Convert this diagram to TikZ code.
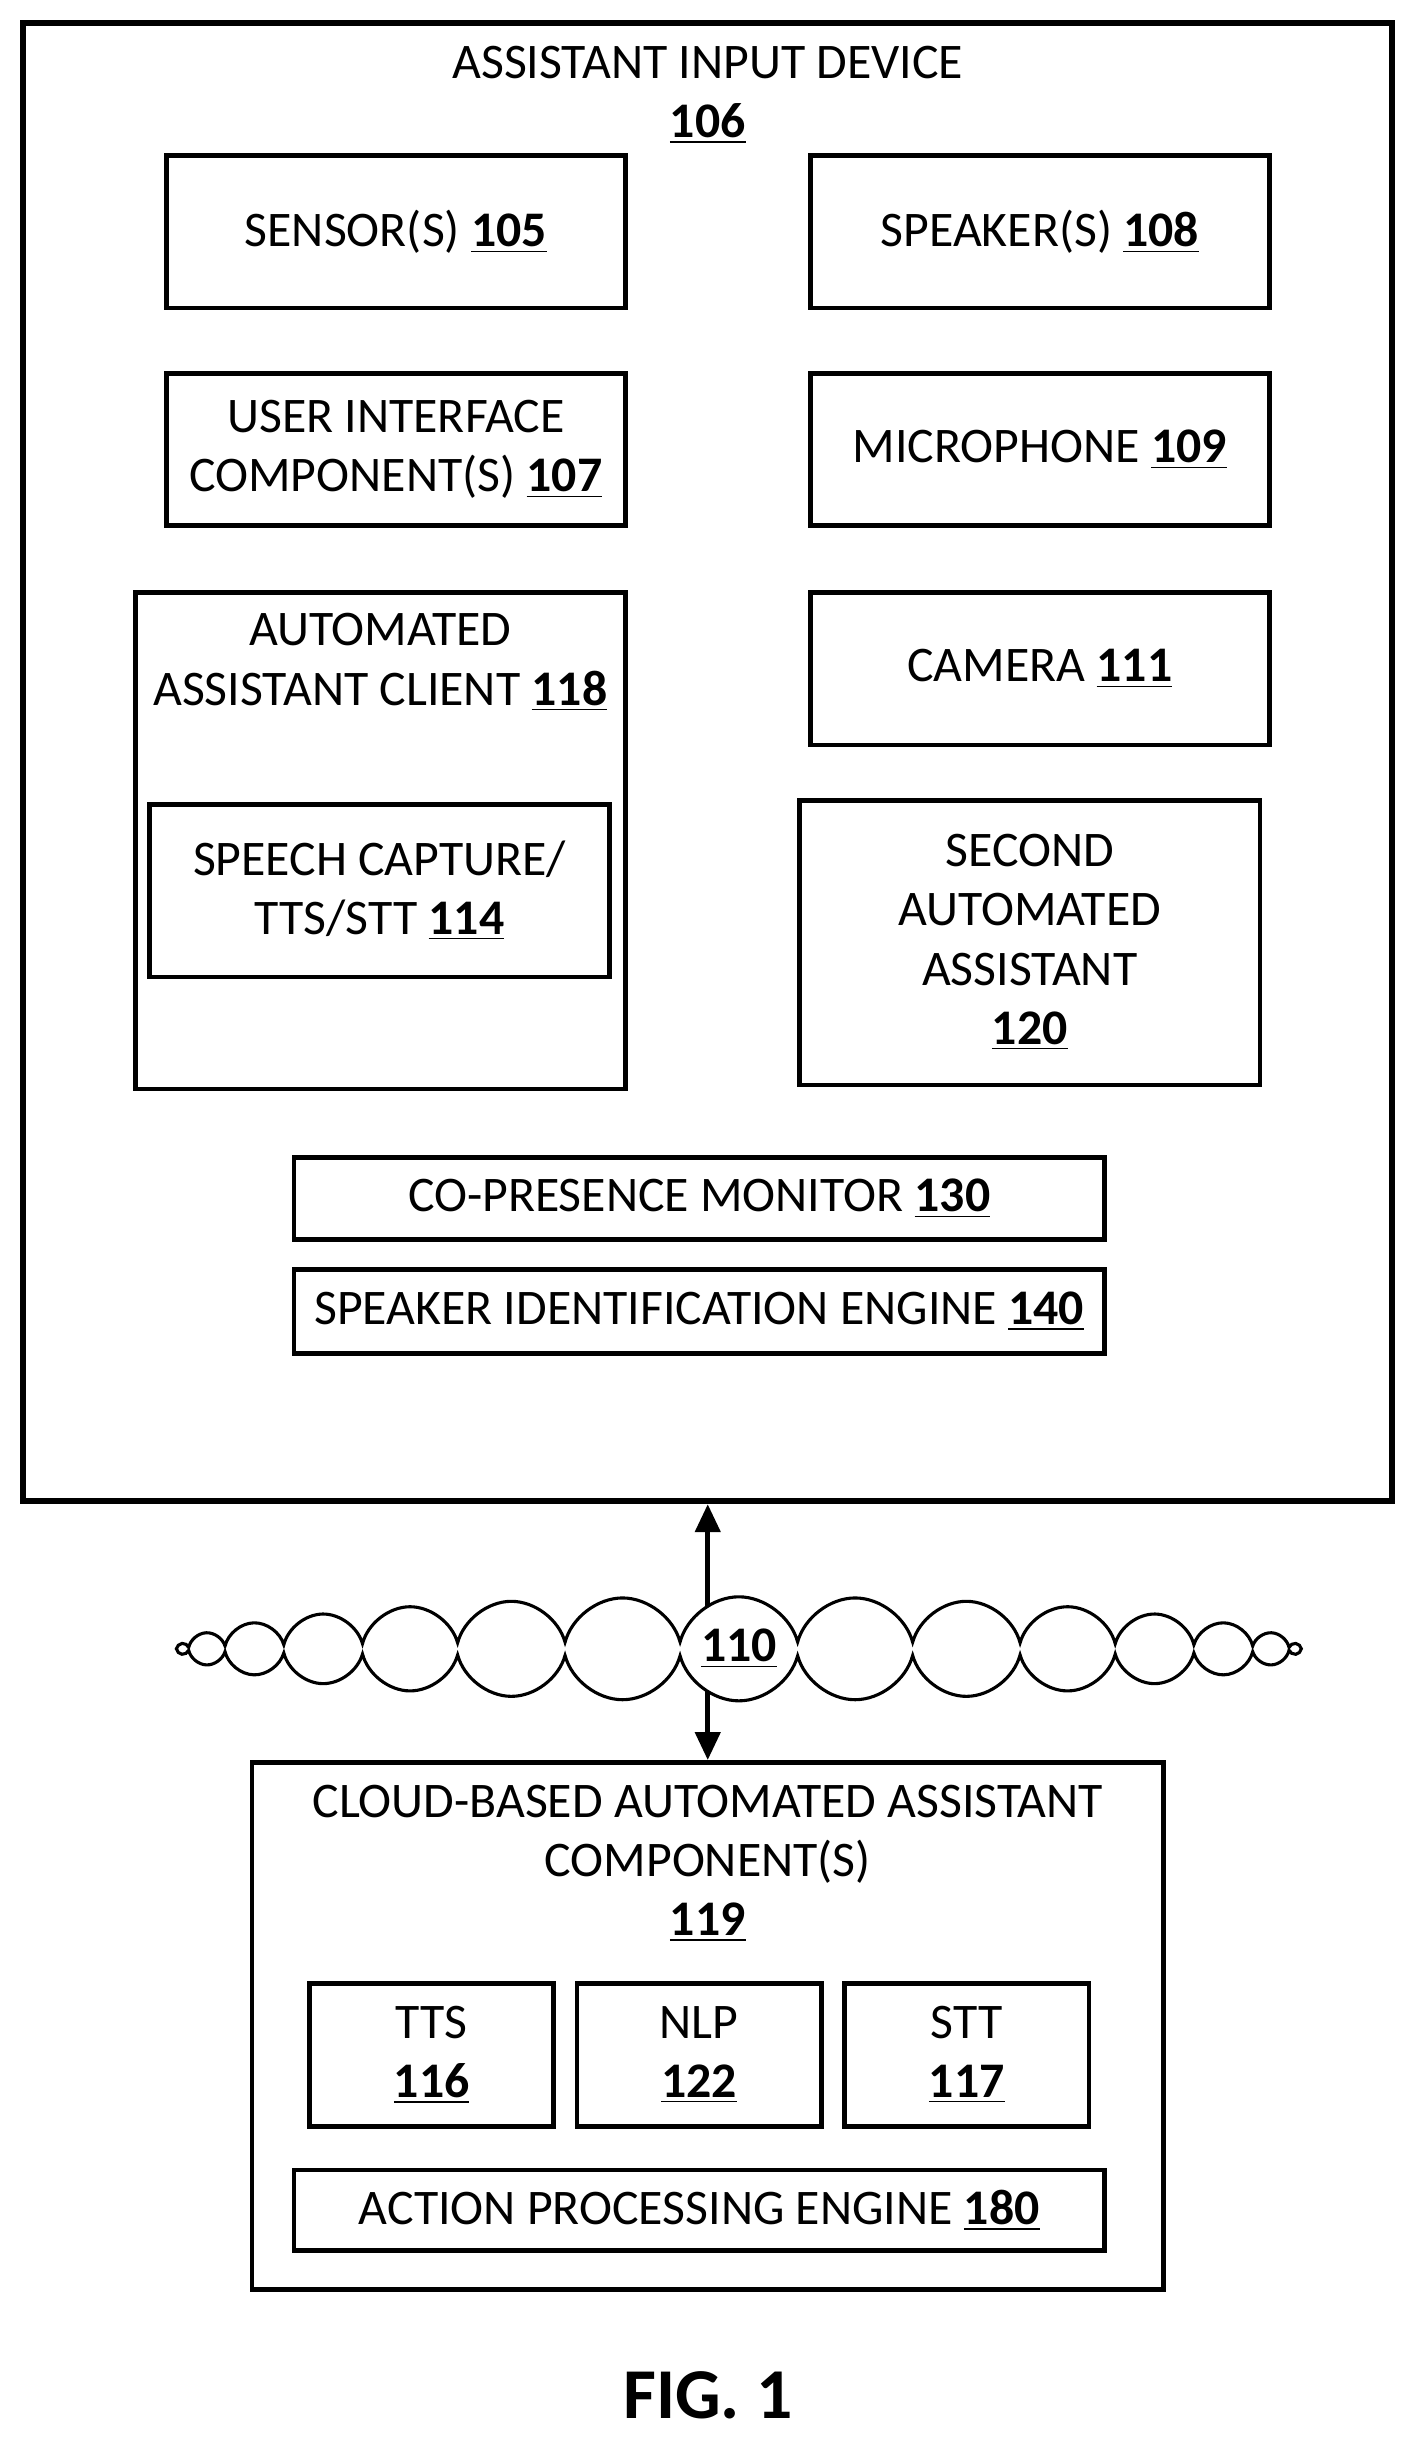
\documentclass[tikz,border=0pt]{standalone}
\usepackage{fontspec}
\setmainfont{Carlito}
\usetikzlibrary{shapes.symbols,arrows.meta}
\newcommand{\nb}[1]{\underline{\textbf{#1}}}
\begin{document}
\fontsize{16}{19}\selectfont
\begin{tikzpicture}[x=0.5pt,y=-0.5pt,
 box/.style={draw,line width=1.5pt,align=center,inner sep=0pt},
 txt/.style={align=center,inner sep=0pt},
 tip/.style={line width=1.6pt,-{Triangle[length=9pt,width=8pt]}}]
\useasboundingbox (0,0) rectangle (910,1568);
\node[box,line width=2pt,minimum width=440pt,minimum height=475pt] (outer) at (455,490) {};
\node[txt] (t1) at (455,61) {ASSISTANT INPUT DEVICE\\\nb{106}};
\node[box,minimum width=147.5pt,minimum height=49pt] (sen) at (254.5,149) {SENSOR(S) \nb{105}};
\node[box,minimum width=147.5pt,minimum height=49pt] (spk) at (668.5,149) {SPEAKER(S) \nb{108}};
\node[box,minimum width=147.5pt,minimum height=49pt] (ui) at (254.5,289) {USER INTERFACE\\COMPONENT(S) \nb{107}};
\node[box,minimum width=147.5pt,minimum height=49pt] (mic) at (668.5,289) {MICROPHONE \nb{109}};
\node[box,minimum width=157.5pt,minimum height=159.5pt] (aac) at (244.5,540.5) {};
\node[txt] (aact) at (244.5,426) {AUTOMATED\\ASSISTANT CLIENT \nb{118}};
\node[box,minimum width=147.5pt,minimum height=49pt] (cam) at (668.5,430) {CAMERA \nb{111}};
\node[box,minimum width=148pt,minimum height=55.5pt] (sc) at (244,572.5) {SPEECH CAPTURE/\\TTS/STT \nb{114}};
\node[box,minimum width=148pt,minimum height=91.5pt] (saa) at (662,606) {SECOND\\AUTOMATED\\ASSISTANT\\\nb{120}};
\node[box,minimum width=260.5pt,minimum height=26.5pt] (cop) at (449.5,770.5) {CO-PRESENCE MONITOR \nb{130}};
\node[box,minimum width=260.5pt,minimum height=27pt] (sid) at (449.5,843) {SPEAKER IDENTIFICATION ENGINE \nb{140}};
\node[box,minimum width=293pt,minimum height=169.5pt] (cb) at (455,1302.5) {};
\node[txt] (cbt) at (455,1198) {CLOUD-BASED AUTOMATED ASSISTANT\\COMPONENT(S)\\\nb{119}};
\node[box,minimum width=78.5pt,minimum height=46pt] (tts) at (277.5,1321) {TTS\\\nb{116}};
\node[box,minimum width=78.5pt,minimum height=46pt] (nlp) at (449.5,1321) {NLP\\\nb{122}};
\node[box,minimum width=78.5pt,minimum height=46pt] (stt) at (621.5,1321) {STT\\\nb{117}};
\node[box,minimum width=260.5pt,minimum height=26pt] (act) at (449.5,1421) {ACTION PROCESSING ENGINE \nb{180}};
\node[txt,font=\fontsize{23}{26}\selectfont\bfseries] (fig) at (455,1540) {FIG. 1};
\coordinate (a1) at (455,1050);
\coordinate (a2) at (455,1070);
\draw[tip] (a1) -- (outer.south -| a1);
\draw[tip] (a2) -- (cb.north -| a2);
\node[cloud,draw,fill=white,line width=1pt,cloud puffs=30,aspect=11,minimum width=360pt,minimum height=32pt,inner sep=0pt] (net) at (475,1060) {\nb{110}};
\end{tikzpicture}
\end{document}
